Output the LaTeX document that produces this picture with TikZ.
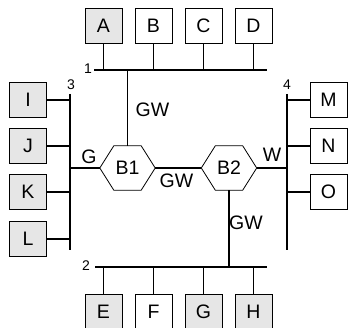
\documentclass[tikz,border=0pt]{standalone}
\usepackage{fontspec}
\setmainfont{Liberation Sans}
\usetikzlibrary{calc}
\definecolor{shade}{HTML}{E6E6E6}
\tikzset{
  host/.style={draw, line width=0.8pt, minimum width=37pt, minimum height=35pt, inner sep=0pt, font=\fontsize{19.5}{19.5}\selectfont},
  grey/.style={host, fill=shade},
  white/.style={host, fill=white},
  wire/.style={line width=1.6pt},
  lbl/.style={inner sep=0pt, font=\fontsize{19.5}{19.5}\selectfont},
  num/.style={inner sep=0pt, font=\fontsize{14}{14}\selectfont},
  brg/.style={minimum width=55pt, minimum height=44pt, inner sep=0pt, font=\fontsize{19.5}{19.5}\selectfont},
  hexa/.style={draw, fill=white, line width=0.8pt}
}
\begin{document}
\begin{tikzpicture}[x=1pt,y=-1pt]
\useasboundingbox (0,0) rectangle (348,328);
\begin{scope}
\clip (0,0) rectangle (348,328);
% top hosts
\node[grey]  (A) at (103.5,26) {A};
\node[white] (B) at (153.5,26) {B};
\node[white] (C) at (203.5,26) {C};
\node[white] (D) at (253.5,26) {D};
% bottom hosts
\node[grey]  (E) at (103.5,311.5) {E};
\node[white] (F) at (153.5,311.5) {F};
\node[grey]  (G) at (203.5,311.5) {G};
\node[grey]  (H) at (253.5,311.5) {H};
% left hosts
\node[grey] (I) at (28,100) {I};
\node[grey] (J) at (28,146) {J};
\node[grey] (K) at (28,192) {K};
\node[grey] (L) at (28,239) {L};
% right hosts
\node[white] (M) at (328.5,100) {M};
\node[white] (N) at (328.5,146) {N};
\node[white] (O) at (328.5,192) {O};
% bus end points
\coordinate (b1l) at (94,70);  \coordinate (b1r) at (267,70);
\coordinate (b2l) at (95,267); \coordinate (b2r) at (267,267);
\coordinate (b3t) at (70,94);  \coordinate (b3b) at (70,250);
\coordinate (b4t) at (287,94); \coordinate (b4b) at (287,250);
\draw[wire] (b1l) -- (b1r);
\draw[wire] (b2l) -- (b2r);
\draw[wire] (b3t) -- (b3b);
\draw[wire] (b4t) -- (b4b);
\node[num] (n1) at (88,69) {1};
\node[num] (n2) at (86,266) {2};
\node[num] (n3) at (71,85) {3};
\node[num] (n4) at (287,85) {4};
% bridges
\node[brg] (B1) at (127.5,168) {};
\node[brg] (B2) at (229,168) {};
\foreach \b in {B1,B2}{
  \draw[hexa] (\b.west) -- ($(\b.north west)+(14,0)$) -- ($(\b.north east)+(-14,0)$) -- (\b.east)
    -- ($(\b.south east)+(-14,0)$) -- ($(\b.south west)+(14,0)$) -- cycle;
}
\node[lbl] at (B1) {B1};
\node[lbl] at (B2) {B2};
% drops
\foreach \h in {A,B,C,D}{ \draw[wire] (\h.south) -- (\h |- b1l); }
\foreach \h in {E,F,G,H}{ \draw[wire] (\h.north) -- (\h |- b2l); }
\foreach \h in {I,J,K,L}{ \draw[wire] (\h.east) -- (\h -| b3t); }
\foreach \h in {M,N,O}{ \draw[wire] (\h.west) -- (\h -| b4t); }
% gateways
\draw[wire] (B1.north) -- (B1.north |- b1l);
\draw[wire] (B1.west) -- (B1.west -| b3t);
\draw[wire] (B1.east) -- (B2.west);
\draw[wire] (B2.east) -- (B2.east -| b4t);
\draw[wire] (B2.south) -- (B2.south |- b2l);
\node[lbl] (gw1) at (152.5,110) {GW};
\node[lbl] (gw2) at (176.5,181) {GW};
\node[lbl] (gw3) at (246,223) {GW};
\node[lbl] (lg) at (89,157) {G};
\node[lbl] (lw) at (272,155) {W};
\end{scope}
\end{tikzpicture}
\end{document}
